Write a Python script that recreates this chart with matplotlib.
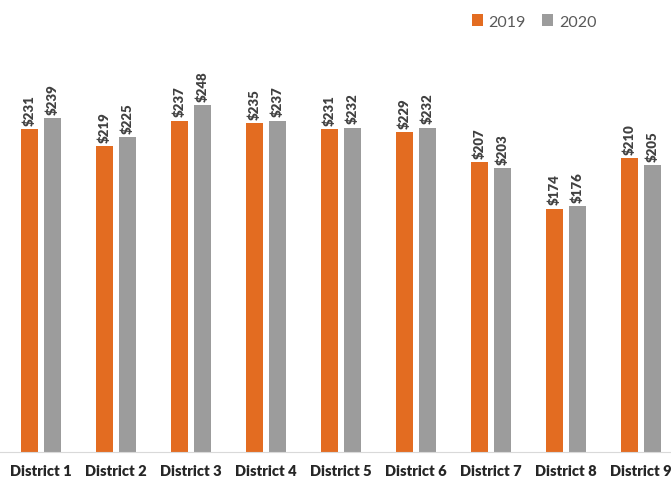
import numpy as np
import matplotlib.pyplot as plt

districts = ["District 1", "District 2", "District 3", "District 4", "District 5",
             "District 6", "District 7", "District 8", "District 9"]
v2019 = [231, 219, 237, 235, 231, 229, 207, 174, 210]
v2020 = [239, 225, 248, 237, 232, 232, 203, 176, 205]

c2019 = "#E36C21"
c2020 = "#9C9C9C"

plt.rcParams['font.family'] = ['Lato', 'DejaVu Sans']

fig = plt.figure(figsize=(6.71, 4.81), dpi=100)
ax = fig.add_axes([0, 28/481, 1, (453-60)/481])

x = np.arange(len(districts))
w = 0.23
gap = 0.035
b1 = ax.bar(x - w/2 - gap, v2019, w, color=c2019, label="2019")
b2 = ax.bar(x + w/2 + gap, v2020, w, color=c2020, label="2020")

for bars in (b1, b2):
    for b in bars:
        ax.annotate(f"${b.get_height():.0f}", (b.get_x() + b.get_width()/2, b.get_height()),
                    xytext=(0, 3), textcoords="offset points", rotation=90,
                    ha="center", va="bottom", fontsize=9.5, fontweight="heavy", color="#404040")

ax.set_xlim(-41/75, (671-41)/75)
ax.set_ylim(0, 281)
ax.set_yticks([])
ax.set_xticks(x)
ax.set_xticklabels(districts, fontsize=10.5, fontweight="heavy", color="#262626")
ax.tick_params(axis="x", length=0, pad=9)
for s in ["top", "right", "left"]:
    ax.spines[s].set_visible(False)
ax.spines["bottom"].set_color("#D9D9D9")

ax.legend(loc="upper right", bbox_to_anchor=(0.91, 1.15), ncol=2, frameon=False,
          fontsize=11.5, handlelength=0.7, handleheight=0.7, handletextpad=0.35,
          columnspacing=1.0, labelcolor="#595959")

fig.savefig("out.png", dpi=100)
